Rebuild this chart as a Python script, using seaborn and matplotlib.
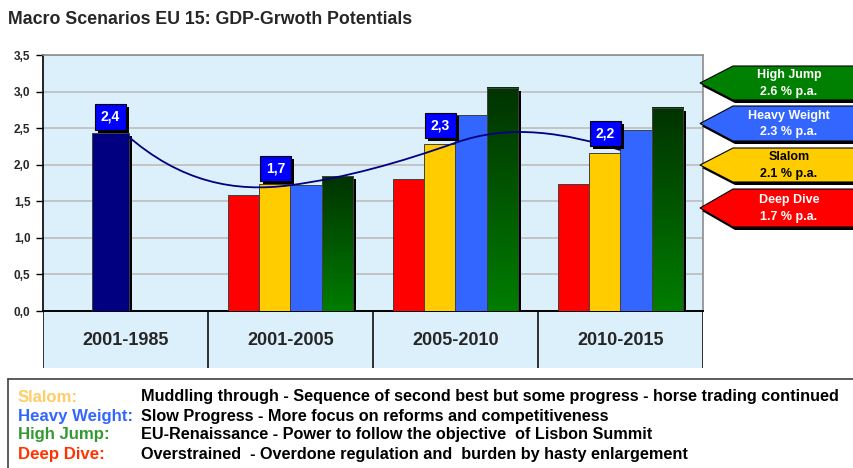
import numpy as np
import pandas as pd
import matplotlib
matplotlib.use("Agg")
import matplotlib.pyplot as plt
import seaborn as sns
from matplotlib import transforms
from matplotlib import patheffects as pe
from matplotlib.patches import Rectangle, Polygon, PathPatch
from matplotlib.path import Path
from matplotlib.colors import LinearSegmentedColormap

# ---------------- data ----------------
periods = ["2001-1985", "2001-2005", "2005-2010", "2010-2015"]
scenario_periods = ["2001-2005", "2005-2010", "2010-2015"]
scenarios = ["Deep Dive", "Slalom", "Heavy Weight", "High Jump"]
history_value = [2.43]
deep_dive = [1.59, 1.80, 1.73]
slalom = [1.73, 2.28, 2.16]
heavy_weight = [1.72, 2.68, 2.47]
high_jump = [1.84, 3.05, 2.78]
average_line = [2.42, 1.72, 2.30, 2.20]
y_ticks = [0.0, 0.5, 1.0, 1.5, 2.0, 2.5, 3.0, 3.5]
arrow_names = ["High Jump", "Heavy Weight", "Slalom", "Deep Dive"]
arrow_rates = ["2.6 % p.a.", "2.3 % p.a.", "2.1 % p.a.", "1.7 % p.a."]
descr_names = ["Slalom:", "Heavy Weight:", "High Jump:", "Deep Dive:"]
descr_texts = [
    "Muddling through - Sequence of second best but some progress - horse trading continued",
    "Slow Progress - More focus on reforms and competitiveness",
    "EU-Renaissance - Power to follow the objective  of Lisbon Summit",
    "Overstrained  - Overdone regulation and  burden by hasty enlargement",
]
title = "Macro Scenarios EU 15: GDP-Grwoth Potentials"

# ---------------- styles ----------------
sns.set_style("white")
plt.rcParams["font.family"] = ["Liberation Sans", "DejaVu Sans"]
W, H = 854, 468
bar_colors = {"Deep Dive": "#FF0000", "Slalom": "#FFCC00",
              "Heavy Weight": "#3366FF", "High Jump": "#007A00"}
navy = "#000080"
plot_bg = "#DCF0FC"
arrow_colors = ["#008000", "#3366FF", "#FFCC00", "#FF0000"]
arrow_text_colors = ["white", "white", "black", "white"]
descr_colors = ["#FFCC66", "#3366FF", "#339933", "#FF3300"]
curve_tangents = [-2.0, 0.3, 0.8, -0.7]

fig = plt.figure(figsize=(W / 100, H / 100), dpi=100)
fig.patch.set_facecolor("white")

def fx(x):
    return x / W

def fy(y):
    return (H - y) / H

# table strip under the plot
tab = fig.add_axes([fx(43), fy(368), 660 / W, (368 - 311) / H])
tab.set_facecolor(plot_bg)
tab.set_xlim(-0.5, 3.5)
tab.set_ylim(0, 1)
tab.set_xticks([]); tab.set_yticks([])
for s in tab.spines.values():
    s.set_visible(False)
for b in np.arange(-0.5, 4.0, 1.0):
    tab.axvline(b, color="#202020", lw=1.3)
tab.set_zorder(0)

ax = fig.add_axes([fx(43), fy(311), 660 / W, 256 / H])
ax.set_zorder(1)
ax.set_facecolor(plot_bg)

df = pd.DataFrame({
    "period": np.tile(scenario_periods, 4),
    "scenario": np.repeat(scenarios, 3),
    "value": deep_dive + slalom + heavy_weight + high_jump,
})
hist_df = pd.DataFrame({"period": periods[:1], "value": history_value})

sns.barplot(data=df, x="period", y="value", hue="scenario", order=periods,
            hue_order=scenarios, palette=bar_colors, width=0.76, dodge=True,
            saturation=1, edgecolor="#404040", linewidth=0.7, legend=False,
            errorbar=None, ax=ax, zorder=3)
n_scen = len(ax.patches)
sns.barplot(data=hist_df, x="period", y="value", order=periods, color=navy,
            width=0.225, saturation=1, edgecolor="#404040", linewidth=0.7,
            errorbar=None, ax=ax, zorder=3)
bars = list(ax.patches)
for p in bars[n_scen:]:
    p.set_x(p.get_x() - 0.09)

ax.set_xlim(-0.5, 3.5)
ax.set_ylim(0, 3.5)

# shadows
shadow_tr = transforms.offset_copy(ax.transData, fig=fig, x=3, y=-3, units="dots")
for p in bars:
    if p.get_height() <= 0 or np.isnan(p.get_height()):
        continue
    ax.add_patch(Rectangle((p.get_x(), p.get_y()), p.get_width(), p.get_height(),
                           transform=shadow_tr, fc="black", ec="none", zorder=2.5))

# gradient for High Jump bars
green_cmap = LinearSegmentedColormap.from_list("g", ["#007D00", "#003300"])
grad = np.linspace(0, 1, 256).reshape(-1, 1)
green_bars = bars[9:12]
for p in green_bars:
    x0, w, h = p.get_x(), p.get_width(), p.get_height()
    if np.isnan(h):
        continue
    ax.imshow(grad, extent=[x0, x0 + w, 0, h], origin="lower", aspect="auto",
              cmap=green_cmap, zorder=3.1, interpolation="bilinear")
    p.set_facecolor("none")
    p.set_zorder(3.2)
ax.set_xlim(-0.5, 3.5)
ax.set_ylim(0, 3.5)
ax.set_aspect("auto")

# smoothed average line (Bezier through the points)
xs = np.arange(len(average_line), dtype=float)
verts = [(xs[0], average_line[0])]
codes = [Path.MOVETO]
for i in range(len(xs) - 1):
    d = (xs[i + 1] - xs[i]) / 3
    verts += [(xs[i] + d, average_line[i] + curve_tangents[i] * d),
              (xs[i + 1] - d, average_line[i + 1] - curve_tangents[i + 1] * d),
              (xs[i + 1], average_line[i + 1])]
    codes += [Path.CURVE4] * 3
ax.add_patch(PathPatch(Path(verts, codes), fc="none", ec=navy, lw=1.3, zorder=5))

# value labels with drop shadow
for i, v in enumerate(average_line):
    lab = f"{v:.1f}".replace(".", ",")
    t = ax.annotate(lab, (xs[i], v), xytext=(-15, 17), textcoords="offset pixels",
                    ha="center", va="center", fontsize=10, fontweight="bold", color="white",
                    bbox=dict(boxstyle="square,pad=0.4", fc="#0000FF", ec="black", lw=0.8),
                    zorder=7)
    t.get_bbox_patch().set_path_effects([
        pe.SimplePatchShadow(offset=(2.2, -2.2), shadow_rgbFace="black", alpha=1.0),
        pe.Normal()])

# axes styling
ax.set_yticks(y_ticks)
ax.set_yticklabels([f"{t:.1f}".replace(".", ",") for t in y_ticks],
                   fontsize=8.5, fontweight="bold")
ax.set_xticks(range(len(periods)))
ax.set_xticklabels(periods, fontsize=13, fontweight="bold")
ax.tick_params(axis="y", direction="out", length=5, width=1, color="black", pad=4, left=True)
ax.tick_params(axis="x", length=0, pad=15)
ax.yaxis.grid(True, color="#C0C0C0", lw=1.3)
ax.xaxis.grid(False)
ax.set_axisbelow(True)
ax.set_xlabel(""); ax.set_ylabel("")
ax.spines["left"].set_color("black"); ax.spines["left"].set_linewidth(1.2)
ax.spines["bottom"].set_color("black"); ax.spines["bottom"].set_linewidth(1.4)
for s in ["top", "right"]:
    ax.spines[s].set_color("#8C8C8C"); ax.spines[s].set_linewidth(1.2)
    ax.spines[s].set_visible(True)

# title
t_title = fig.text(fx(8), fy(19), title, fontsize=13, fontweight="bold",
                   ha="left", va="center")

# arrows on the right
arrow_boxes = [(66, 100), (106, 141), (148, 182), (189, 227)]
for (top, bot), name, rate, col, tcol in zip(arrow_boxes, arrow_names, arrow_rates,
                                             arrow_colors, arrow_text_colors):
    cy = (top + bot) / 2
    pts = [(700, cy), (733, top), (870, top), (870, bot), (733, bot)]
    sh = [(x + 2, y + 3) for x, y in pts]
    fig.patches.append(Polygon([(fx(x), fy(y)) for x, y in sh], closed=True,
                               transform=fig.transFigure, fc="black", ec="none", zorder=1))
    fig.patches.append(Polygon([(fx(x), fy(y)) for x, y in pts], closed=True,
                               transform=fig.transFigure, fc=col, ec="black", lw=0.8, zorder=2))
    fig.text(fx(789), fy(cy - 8), name, ha="center", va="center", fontsize=9,
             fontweight="bold", color=tcol, zorder=3)
    fig.text(fx(789), fy(cy + 9), rate, ha="center", va="center", fontsize=9,
             fontweight="bold", color=tcol, zorder=3)

# description box
fig.add_artist(plt.Line2D([fx(8), fx(8)], [fy(379), fy(470)], transform=fig.transFigure,
                          color="#404040", lw=1.2))
fig.add_artist(plt.Line2D([fx(8), fx(860)], [fy(379), fy(379)], transform=fig.transFigure,
                          color="#404040", lw=1.2))
line_y = [397, 416, 435, 454]
name_texts, desc_texts = [], []
for y, nm, tx, col in zip(line_y, descr_names, descr_texts, descr_colors):
    name_texts.append(fig.text(fx(18), fy(y), nm, ha="left", va="center", fontsize=11,
                               fontweight="bold", color=col))
    desc_texts.append(fig.text(fx(141), fy(y), tx, ha="left", va="center", fontsize=11,
                               fontweight="bold", color="black"))

# fit a few text widths to the reference
fig.canvas.draw()
r = fig.canvas.get_renderer()
def fit(t, target):
    w = t.get_window_extent(r).width
    t.set_fontsize(t.get_fontsize() * target / w)
fit(t_title, 402)
w0 = desc_texts[0].get_window_extent(r).width
for t in desc_texts:
    t.set_fontsize(t.get_fontsize() * 702 / w0)
w1 = name_texts[1].get_window_extent(r).width
for t in name_texts:
    t.set_fontsize(t.get_fontsize() * 115 / w1)

fig.savefig("out.png", dpi=100)
